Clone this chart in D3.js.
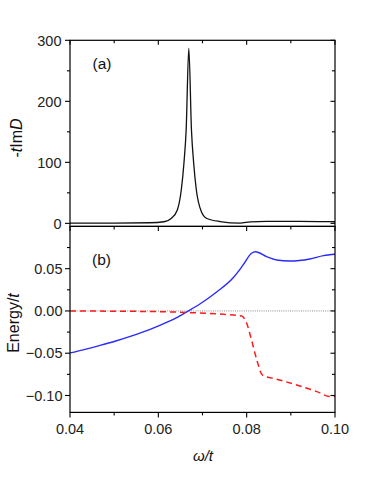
<!DOCTYPE html>
<html><head><meta charset="utf-8">
<script src="https://cdn.jsdelivr.net/npm/d3@7"></script>
<style>
body{margin:0;background:#fff;}
svg{display:block;font-family:"Liberation Sans",Arial,sans-serif;}
</style></head>
<body>
<svg id="c" width="382" height="494"></svg>
<script>
// ---- data ----
const omegaA = [0.040,0.050,0.058,0.0613,0.0629,0.0643,0.0652,0.0658,0.0663,0.0669,0.0675,0.0680,0.0686,0.0697,0.0710,0.0740,0.0785,0.0808,0.0845,0.0920,0.0980,0.1000];
const imD    = [0.3,  0.5,  1.0,  2.6,   8,     22,    55,    99,    153,   287,   153,   99,    55,    20,    8,     3,     0.5,   2.5,   3.3,   3.3,   2.8,   2.6];

const omegaB = [0.040,0.043,0.047,0.050,0.054,0.058,0.062,0.0645,0.0668,0.0694,0.0732,0.0770,0.0792,0.0811,0.0820,0.0845,0.0868,0.0898,0.0943,0.0974,0.1000];
const energyBlue = [-0.0497,-0.0460,-0.0405,-0.0361,-0.0295,-0.0221,-0.0133,-0.0069,0.0,0.0082,0.0224,0.0395,0.0544,0.0682,0.0701,0.0642,0.0603,0.0590,0.0615,0.0654,0.0670];

const omegaR = [0.040,0.050,0.060,0.0672,0.0747,0.0789,0.0800,0.0811,0.0823,0.0836,0.0868,0.0913,0.0959,0.0989,0.1000];
const energyRed = [0,-0.0003,-0.0008,-0.002,-0.0039,-0.006,-0.0146,-0.0343,-0.058,-0.076,-0.0807,-0.0875,-0.0954,-0.1013,-0.1008];

const xTicksMajor = [0.04,0.06,0.08,0.10];
const xTicksMinor = [0.05,0.07,0.09];
const aTicksMajor = [0,100,200,300];
const aTicksMinor = [50,150,250];
const bTicksMajor = [0.05,0.00,-0.05,-0.10];
const bTicksMinor = [0.075,0.025,-0.025,-0.075];

// ---- layout ----
const svg = d3.select("#c");
const L = 70, R = 335, topA = 40.3, mid = 226.4, botB = 412.4;
const x = d3.scaleLinear().domain([0.04,0.10]).range([L,R]);
const yA = d3.scaleLinear().domain([-5,300]).range([mid,topA]);
const yB = d3.scaleLinear().domain([-0.12,0.10]).range([botB,mid]);

const fmt2 = d3.format(".2f");
const tickCol = "#222";

function hTicks(g, y0, dir, len, vals){
  vals.forEach(v=>{
    g.append("line").attr("x1",x(v)).attr("x2",x(v)).attr("y1",y0).attr("y2",y0+dir*len)
     .attr("stroke","#000").attr("stroke-width",1.1);
  });
}
function vTicks(g, x0, dir, len, vals, sc){
  vals.forEach(v=>{
    g.append("line").attr("x1",x0).attr("x2",x0+dir*len).attr("y1",sc(v)).attr("y2",sc(v))
     .attr("stroke","#000").attr("stroke-width",1.1);
  });
}

const g = svg.append("g");

g.append("line").attr("x1",L).attr("x2",R).attr("y1",yB(0)).attr("y2",yB(0))
  .attr("stroke","#8a8a8a").attr("stroke-width",1).attr("stroke-dasharray","1,1.2");

const lineA = d3.line().x((d,i)=>x(omegaA[i])).y(d=>yA(d)).curve(d3.curveMonotoneX);
g.append("path").attr("d",lineA(imD)).attr("fill","none").attr("stroke","#111").attr("stroke-width",1.3);

const lineB = d3.line().x((d,i)=>x(omegaB[i])).y(d=>yB(d)).curve(d3.curveMonotoneX);
g.append("path").attr("d",lineB(energyBlue)).attr("fill","none").attr("stroke","#2a2aff").attr("stroke-width",1.4);

const lineR = d3.line().x((d,i)=>x(omegaR[i])).y(d=>yB(d)).curve(d3.curveMonotoneX);
g.append("path").attr("d",lineR(energyRed)).attr("fill","none").attr("stroke","#ff1a1a").attr("stroke-width",1.5).attr("stroke-dasharray","6,4");

[[topA,mid],[mid,botB]].forEach(([t,b])=>{
  g.append("rect").attr("x",L).attr("y",t).attr("width",R-L).attr("height",b-t)
   .attr("fill","none").attr("stroke","#000").attr("stroke-width",1.2);
});

hTicks(g, topA, 1, 4.5, xTicksMajor); hTicks(g, topA, 1, 3, xTicksMinor);
hTicks(g, mid, 1, 4.5, xTicksMajor); hTicks(g, mid, 1, 3, xTicksMinor);
hTicks(g, botB, 1, 5, xTicksMajor); hTicks(g, botB, 1, 3, xTicksMinor);

vTicks(g, L, -1, 5, aTicksMajor, yA); vTicks(g, L, -1, 3, aTicksMinor, yA);
vTicks(g, R, -1, 4.5, aTicksMajor, yA); vTicks(g, R, -1, 3, aTicksMinor, yA);
vTicks(g, L, -1, 5, bTicksMajor, yB); vTicks(g, L, -1, 3, bTicksMinor, yB);
vTicks(g, R, -1, 4.5, bTicksMajor, yB); vTicks(g, R, -1, 3, bTicksMinor, yB);

const fs = 14.5;
aTicksMajor.forEach(v=>{
  g.append("text").attr("x",61.5).attr("y",yA(v)).attr("dy","0.36em").attr("text-anchor","end")
   .attr("font-size",fs).attr("fill",tickCol).text(v);
});
bTicksMajor.forEach(v=>{
  g.append("text").attr("x",62.5).attr("y",yB(v)).attr("dy","0.36em").attr("text-anchor","end")
   .attr("font-size",fs).attr("fill",tickCol).text(fmt2(v));
});
xTicksMajor.forEach(v=>{
  g.append("text").attr("x",x(v)).attr("y",433.5).attr("text-anchor","middle")
   .attr("font-size",fs).attr("fill",tickCol).text(fmt2(v));
});

g.append("text").attr("x",92.5).attr("y",69).attr("font-size",15.5).attr("fill","#111").text("(a)");
g.append("text").attr("x",92).attr("y",265).attr("font-size",15.5).attr("fill","#111").text("(b)");

const tA = g.append("text").attr("transform","translate(22,138) rotate(-90)").attr("text-anchor","middle")
  .attr("font-size",16).attr("fill","#111");
tA.append("tspan").text("-");
tA.append("tspan").attr("font-style","italic").text("t");
tA.append("tspan").text("Im");
tA.append("tspan").attr("font-style","italic").text("D");

const tB = g.append("text").attr("transform","translate(19,323) rotate(-90)").attr("text-anchor","middle")
  .attr("font-size",16).attr("fill","#111");
tB.append("tspan").text("Energy/");
tB.append("tspan").attr("font-style","italic").text("t");

const tX = g.append("text").attr("x",203).attr("y",461).attr("text-anchor","middle")
  .attr("font-size",15).attr("fill","#111").attr("font-style","italic");
tX.append("tspan").text("ω/t");
</script>
</body></html>
